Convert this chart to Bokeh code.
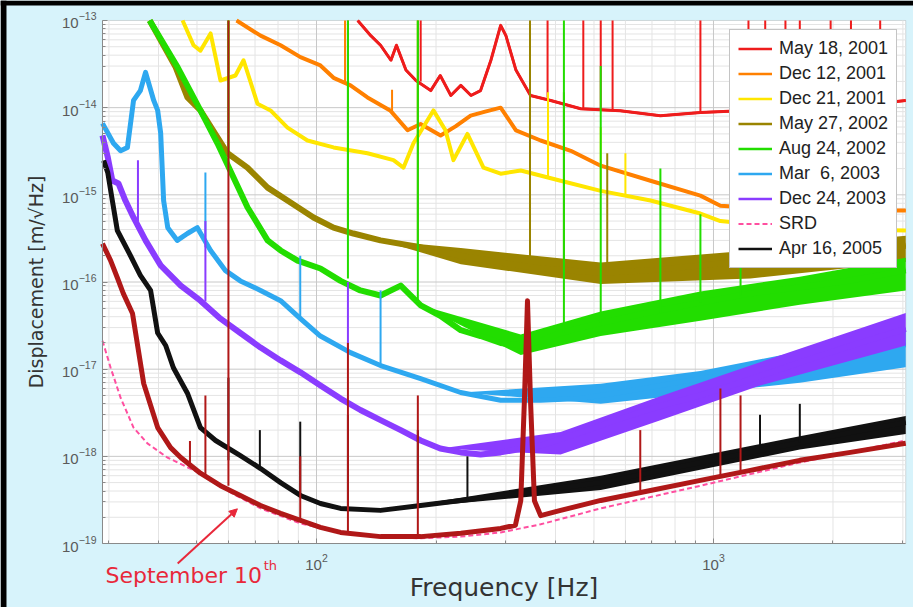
from bokeh.plotting import figure
from bokeh.models import (FixedTicker, Legend, LegendItem, Label, Arrow, NormalHead, LogAxis,
                          BoxAnnotation)
from bokeh.embed import file_html
from bokeh.resources import INLINE

# ---------------- data ----------------
freq_may01 = [127, 137, 145, 154, 159, 168, 178, 194, 205, 218, 231, 245, 259, 275, 291, 300, 318,
              346, 389, 463, 582, 735, 927, 1170, 1650, 2340, 3050]
disp_may01 = [1e-13, 6.7e-14, 5.2e-14, 3.5e-14, 5.2e-14, 2.7e-14, 2.05e-14, 1.57e-14, 2.34e-14,
              1.38e-14, 1.8e-14, 1.38e-14, 1.57e-14, 3.5e-14, 8.8e-14, 6.7e-14, 2.7e-14, 1.38e-14, 1.21e-14,
              9.7e-15, 9.2e-15, 8.1e-15, 8.8e-15, 9.2e-15, 9.7e-15, 1.06e-14, 1.21e-14]

freq_dec12_01 = [62.9, 72.3, 81.2, 91.1, 102.3, 110.4, 121.8, 134.4, 153.7, 169.6, 182.9, 205.4, 224,
                 244.5, 266, 291, 318, 367, 437, 520, 694, 927, 1041, 1650, 3050]
disp_dec12_01 = [1e-13, 6.7e-14, 5.2e-14, 3.8e-14, 3.05e-14, 2.2e-14, 1.8e-14, 1.31e-14, 9.2e-15,
                 5.5e-15, 6.5e-15, 4.8e-15, 6.1e-15, 8.1e-15, 9.0e-15, 1.0e-14, 5.5e-15, 4.2e-15, 3.2e-15,
                 2.16e-15, 1.45e-15, 9.8e-16, 7.5e-16, 6.6e-16, 6.6e-16]

freq_dec21_01 = [46.0, 49, 51, 54.1, 57.3, 62.5, 65.5, 71, 76.6, 84.5, 94.9, 110.4, 134.4, 156.3, 165.6,
                 175.5, 197, 211.3, 221.3, 240, 263.4, 291, 327, 412, 520, 694, 927, 1041, 1650, 3050]
disp_dec21_01 = [1e-13, 5.2e-14, 4.5e-14, 7.1e-14, 2.05e-14, 2.34e-14, 3.5e-14, 1.11e-14, 9.3e-15,
                 5.9e-15, 4.2e-15, 3.5e-15, 3.0e-15, 2.5e-15, 2.05e-15, 3.9e-15, 9.3e-15, 5.5e-15, 2.5e-15,
                 5.0e-15, 2.05e-15, 1.75e-15, 1.9e-15, 1.45e-15, 1.11e-15, 8.6e-16, 6.1e-16, 5.0e-16, 4.1e-16,
                 3.9e-16]

freq_may27_02 = [38.0, 44.2, 47.3, 51, 59.7, 67, 75.3, 84.5, 98.3, 110.4, 123.9, 145, 182.9, 230.7, 291,
                 367, 520, 694, 927, 1239, 1650, 2213, 3050]
disp_may27_02 = [1e-13, 2.9e-14, 1.31e-14, 9.3e-15, 3.0e-15, 2.05e-15, 1.21e-15, 8.6e-16, 5.5e-16,
                 4.2e-16, 3.6e-16, 3.0e-16, 2.5e-16, 2.0e-16, 1.67e-16, 1.43e-16, 1.28e-16, 1.36e-16, 1.55e-16,
                 1.76e-16, 2.0e-16, 2.3e-16, 2.6e-16]

freq_aug24_02 = [38.0, 44.7, 51, 56.3, 61.8, 67, 75.3, 81.2, 89.6, 102.3, 115, 129, 145, 163, 183, 205,
                 231, 259, 291, 327, 367, 412, 520, 694, 927, 1239, 1650, 2213, 3050]
disp_aug24_02 = [1e-13, 2.9e-14, 9.3e-15, 3.9e-15, 1.58e-15, 7.2e-16, 3.0e-16, 2.3e-16, 1.76e-16,
                 1.43e-16, 1.03e-16, 8.0e-17, 7.0e-17, 9.1e-17, 5.4e-17, 4.1e-17, 2.8e-17, 2.4e-17, 2.0e-17,
                 1.87e-17, 2.1e-17, 2.6e-17, 3.4e-17, 4.5e-17, 5.8e-17, 7.4e-17, 8.7e-17, 1.04e-16, 1.36e-16]

freq_mar06_03 = [28.9, 30.8, 32.1, 33.4, 34.6, 36, 37.1, 38.9, 39.8, 40.5, 41.2, 42.2, 44.6, 47.3, 50.1, 54.1,
                 59, 64.3, 72.3, 81.2, 91.1, 102.3, 121.8, 145, 182.9, 230.7, 291, 367, 463, 582, 735, 927,
                 1239, 1650, 2213, 3050]
disp_mar06_03 = [6.6e-15, 3.9e-15, 3.2e-15, 3.5e-15, 1.21e-14, 1.57e-14, 2.54e-14, 1.21e-14, 9.3e-15, 5.1e-15,
                 8.6e-16, 4.2e-16, 3.0e-16, 3.6e-16, 4.2e-16, 2.3e-16, 1.35e-16, 1.03e-16, 8.0e-17, 6.1e-17,
                 3.8e-17, 2.4e-17, 1.55e-17, 1.1e-17, 7.8e-18, 5.4e-18, 4.4e-18, 4.4e-18, 4.6e-18, 5.4e-18,
                 6.5e-18, 7.8e-18, 9.5e-18, 1.2e-17, 1.5e-17, 1.9e-17]

freq_dec24_03 = [28.9, 29.8, 30.6, 31.7, 33, 34.6, 37.1, 40.5, 45.5, 51, 57.3, 64.3, 72.3, 81.2, 91.1, 102.3,
                 115, 129, 145, 163, 183, 205, 231, 259, 291, 367, 463, 582, 735, 927, 1170, 1475, 1860, 2340,
                 3050]
disp_dec24_03 = [4.8e-15, 2.7e-15, 1.46e-15, 1.35e-15, 8.6e-16, 5.5e-16, 3.0e-16, 1.55e-16, 9.1e-17, 6.1e-17,
                 3.8e-17, 2.6e-17, 1.77e-17, 1.26e-17, 9.2e-18, 6.5e-18, 4.6e-18, 3.4e-18, 2.6e-18, 2.0e-18,
                 1.52e-18, 1.23e-18, 1.11e-18, 1.05e-18, 1.11e-18, 1.33e-18, 1.88e-18, 2.7e-18, 3.8e-18,
                 5.0e-18, 7.0e-18, 1.0e-17, 1.43e-17, 2.0e-17, 2.9e-17]

freq_srd = [28.9, 30.3, 32.1, 34.6, 37.5, 42.1, 47.3, 51, 60.7, 72.3, 91.1, 115, 145, 183, 231, 291, 367, 520,
            927, 1650, 3050]
disp_srd = [2.12e-17, 1.04e-17, 4.7e-18, 2.14e-18, 1.41e-18, 9.7e-19, 7.5e-19, 6.4e-19, 3.85e-19, 2.53e-19,
            1.7e-19, 1.34e-19, 1.18e-19, 1.15e-19, 1.2e-19, 1.34e-19, 1.66e-19, 2.53e-19, 4.6e-19, 8.5e-19,
            1.52e-18]

freq_apr16_05 = [29.1, 29.8, 30.6, 31.5, 34, 36, 38.2, 39.8, 41.7, 43.6, 47.3, 51, 55.7, 64.3, 72.3, 81.2, 91.1,
                 102.3, 115, 145, 183, 231, 291, 367, 520, 694, 927, 1239, 1650, 2213, 3050]
disp_apr16_05 = [2.47e-15, 1.8e-15, 8.6e-16, 3.9e-16, 2.0e-16, 1.19e-16, 8.0e-17, 2.6e-17, 1.87e-17, 1.04e-17,
                 5.3e-18, 2.14e-18, 1.52e-18, 1.02e-18, 7.25e-19, 5.0e-19, 3.56e-19, 2.88e-19, 2.53e-19, 2.4e-19,
                 2.73e-19, 3.12e-19, 3.56e-19, 4.06e-19, 5.0e-19, 6.5e-19, 8.5e-19, 1.11e-18, 1.44e-18, 1.88e-18,
                 2.45e-18]

freq_sep10 = [28.9, 30.3, 31.5, 32.6, 34.4, 36.7, 39.8, 42.9, 45.5, 51, 57.3, 64.3, 72.3, 81.2, 91.1, 102.3, 115,
              145, 183, 231, 291, 317, 327, 334, 340, 346, 354, 367, 412, 520, 694, 927, 1239, 1650, 2213, 3050]
disp_sep10 = [2.76e-16, 1.76e-16, 1.12e-16, 7.4e-17, 4.35e-17, 6.85e-18, 2.14e-18, 1.26e-18, 9.7e-19, 6.4e-19,
              4.6e-19, 3.56e-19, 2.73e-19, 2.22e-19, 1.84e-19, 1.53e-19, 1.34e-19, 1.2e-19, 1.2e-19, 1.31e-19,
              1.49e-19, 1.62e-19, 3.1e-19, 4.4e-18, 6.1e-17, 4.4e-18, 3.1e-19, 2.09e-19, 2.4e-19, 3.12e-19,
              4.06e-19, 5.3e-19, 6.9e-19, 9.0e-19, 1.11e-18, 1.41e-18]

# spread of the noisy traces at high frequency: frequency, lower edge, upper edge
band_f_may27_02 = [145, 231, 520, 1239, 3050]
band_lo_may27_02 = [3.0e-16, 1.6e-16, 9.5e-17, 1.1e-16, 1.7e-16]
band_hi_may27_02 = [3.0e-16, 2.45e-16, 1.67e-16, 2.3e-16, 3.4e-16]

band_f_aug24_02 = [183, 327, 520, 927, 1650, 3050]
band_lo_aug24_02 = [5.4e-17, 1.45e-17, 2.4e-17, 3.6e-17, 5.5e-17, 8.0e-17]
band_hi_aug24_02 = [5.4e-17, 2.5e-17, 4.6e-17, 7.8e-17, 1.15e-16, 1.9e-16]

band_f_mar06_03 = [231, 520, 927, 1650, 3050]
band_lo_mar06_03 = [5.4e-18, 4.0e-18, 5.3e-18, 7.0e-18, 1.05e-17]
band_hi_mar06_03 = [5.4e-18, 6.8e-18, 9.5e-18, 1.6e-17, 3.0e-17]

band_f_dec24_03 = [205, 412, 735, 1310, 3050]
band_lo_dec24_03 = [1.23e-18, 1.05e-18, 2.6e-18, 6.5e-18, 1.87e-17]
band_hi_dec24_03 = [1.23e-18, 1.9e-18, 4.9e-18, 1.2e-17, 4.4e-17]

band_f_apr16_05 = [145, 520, 1650, 3050]
band_lo_apr16_05 = [2.4e-19, 4.1e-19, 1.2e-18, 1.8e-18]
band_hi_apr16_05 = [2.4e-19, 6.0e-19, 1.7e-18, 2.9e-18]

# narrow spectral lines: frequency, bottom and top of each line
spk_f_may01 = [183, 382, 470, 520, 557, 927, 1225, 1350, 1518, 1650, 1973, 2220, 2630]
spk_lo_may01 = [2.0e-14, 1.3e-14, 9.7e-15, 9.5e-15, 9.4e-15, 8.8e-15, 9.2e-15, 9.3e-15, 9.5e-15, 9.7e-15,
                1.0e-14, 1.03e-14, 1.1e-14]
spk_hi_may01 = [1e-13] * 13

spk_f_dec12_01 = [118, 155, 383]
spk_lo_dec12_01 = [1.9e-14, 9e-15, 4e-15]
spk_hi_dec12_01 = [1e-13, 1.6e-14, 1.2e-14]

spk_f_dec21_01 = [60, 180, 383, 520, 600]
spk_lo_dec21_01 = [2.5e-14, 3.8e-15, 1.6e-15, 1.1e-15, 1.0e-15]
spk_hi_dec21_01 = [1e-13, 1e-13, 1.5e-14, 6e-15, 3e-15]

spk_f_may27_02 = [60, 120, 180, 345, 420, 540]
spk_lo_may27_02 = [2.7e-15, 3.7e-16, 2.5e-16, 1.5e-16, 1.4e-16, 1.3e-16]
spk_hi_may27_02 = [1e-13, 1e-13, 1e-13, 1e-13, 1.5e-14, 3e-15]

spk_f_aug24_02 = [60, 120, 180, 420, 520, 735, 927, 1170]
spk_lo_aug24_02 = [2.0e-15, 1.1e-16, 6e-17, 2.6e-17, 3.4e-17, 4.5e-17, 5.8e-17, 7e-17]
spk_hi_aug24_02 = [1e-13, 1e-13, 1e-13, 1e-13, 3e-14, 2e-15, 6e-16, 2.5e-16]

spk_f_mar06_03 = [52.5, 91, 145]
spk_lo_mar06_03 = [2.5e-16, 4e-17, 1.1e-17]
spk_hi_mar06_03 = [1.8e-15, 2e-16, 8e-17]

spk_f_dec24_03 = [35.5, 52.5, 120]
spk_lo_dec24_03 = [5e-16, 6e-17, 1.5e-17]
spk_hi_dec24_03 = [2.5e-15, 5e-16, 1e-16]

spk_f_apr16_05 = [60, 72, 91, 120, 180, 240, 1310, 1650]
spk_lo_apr16_05 = [9e-19, 7e-19, 3.6e-19, 2.5e-19, 2.6e-19, 3e-19, 1.2e-18, 1.44e-18]
spk_hi_apr16_05 = [8e-18, 2e-18, 2.5e-18, 3e-18, 2e-18, 1e-18, 3e-18, 4e-18]

spk_f_sep10 = [48, 52.5, 60, 91, 120, 180, 654, 1041, 1170]
spk_lo_sep10 = [8e-19, 6e-19, 4.6e-19, 1.8e-19, 1.3e-19, 1.2e-19, 4.1e-19, 6e-19, 6.9e-19]
spk_hi_sep10 = [1.5e-18, 5e-18, 1e-13, 1e-18, 2e-17, 5e-18, 2e-18, 6e-18, 5e-18]

x_bounds = (28.9, 3050)
y_bounds = (1e-19, 1e-13)
x_major_ticks = [100, 1000]
x_minor_ticks = [30, 40, 50, 60, 70, 80, 90, 200, 300, 400, 500, 600, 700, 800, 900, 2000, 3000]
y_major_ticks = [1e-19, 1e-18, 1e-17, 1e-16, 1e-15, 1e-14, 1e-13]
y_minor_ticks = [m * d for d in [1e-19, 1e-18, 1e-17, 1e-16, 1e-15, 1e-14] for m in range(2, 10)]

# ---------------- figure (frame covers the whole canvas; axes at fixed positions) ----------------
p = figure(width=913, height=607, x_axis_type="log", y_axis_type="log",
           x_range=(15.995, 3190.6), y_range=(1.8452e-20, 1.6957e-13),
           x_axis_location=None, y_axis_location=None,
           output_backend="svg", toolbar_location=None,
           min_border_left=0, min_border_right=0, min_border_top=0, min_border_bottom=0)
p.grid.visible = False
p.background_fill_color = "#d7f3fb"
p.border_fill_color = "#d7f3fb"
p.outline_line_color = None

# white plotting box
p.add_layout(BoxAnnotation(left=x_bounds[0], right=x_bounds[1], bottom=y_bounds[0], top=y_bounds[1],
                           fill_color="white", fill_alpha=1.0, line_color="#8a8a8a", line_width=1,
                           level="image"))

# grid lines inside the box
xm = x_minor_ticks
p.segment(x0=xm, y0=[y_bounds[0]] * len(xm), x1=xm, y1=[y_bounds[1]] * len(xm), line_color="#e4e4e4", line_width=1)
ym = y_minor_ticks
p.segment(x0=[x_bounds[0]] * len(ym), y0=ym, x1=[x_bounds[1]] * len(ym), y1=ym, line_color="#e4e4e4", line_width=1)
xM = x_major_ticks
p.segment(x0=xM, y0=[y_bounds[0]] * len(xM), x1=xM, y1=[y_bounds[1]] * len(xM), line_color="#c8c8c8", line_width=1)
yM = y_major_ticks[1:-1]
p.segment(x0=[x_bounds[0]] * len(yM), y0=yM, x1=[x_bounds[1]] * len(yM), y1=yM, line_color="#c8c8c8", line_width=1)

xaxis = LogAxis(fixed_location=y_bounds[0], bounds=x_bounds,
                ticker=FixedTicker(ticks=x_major_ticks, minor_ticks=x_minor_ticks),
                axis_label="Frequency [Hz]")
yaxis = LogAxis(fixed_location=x_bounds[0], bounds=y_bounds,
                ticker=FixedTicker(ticks=y_major_ticks, minor_ticks=y_minor_ticks),
                axis_label="Displacement [m/\u221aHz]")
for ax in (xaxis, yaxis):
    ax.axis_line_color = "#8a8a8a"
    ax.major_tick_line_color = "#8a8a8a"
    ax.minor_tick_line_color = "#8a8a8a"
    ax.major_tick_in = 5
    ax.major_tick_out = 0
    ax.minor_tick_in = 3
    ax.minor_tick_out = 0
    ax.major_label_text_color = "#5a5a5a"
    ax.major_label_text_font = "Liberation Sans"
    ax.major_label_text_font_size = "15px"
    ax.axis_label_text_font = "DejaVu Sans"
    ax.axis_label_text_font_style = "normal"
    ax.axis_label_text_color = "#333333"
xaxis.axis_label_text_font_size = "25px"
yaxis.axis_label_text_font_size = "19px"
xaxis.major_label_standoff = 10
xaxis.axis_label_standoff = 0
yaxis.major_label_standoff = 6
yaxis.axis_label_standoff = 12
p.add_layout(xaxis, "below")
p.add_layout(yaxis, "left")

bands = {
    "May 27, 2002": (band_f_may27_02, band_lo_may27_02, band_hi_may27_02),
    "Aug 24, 2002": (band_f_aug24_02, band_lo_aug24_02, band_hi_aug24_02),
    "Mar  6, 2003": (band_f_mar06_03, band_lo_mar06_03, band_hi_mar06_03),
    "Dec 24, 2003": (band_f_dec24_03, band_lo_dec24_03, band_hi_dec24_03),
    "Apr 16, 2005": (band_f_apr16_05, band_lo_apr16_05, band_hi_apr16_05),
}

series = [
    ("May 18, 2001", freq_may01, disp_may01, spk_f_may01, spk_lo_may01, spk_hi_may01, "#ee1c1c", 3, None),
    ("Dec 12, 2001", freq_dec12_01, disp_dec12_01, spk_f_dec12_01, spk_lo_dec12_01, spk_hi_dec12_01, "#ff8000", 4, None),
    ("Dec 21, 2001", freq_dec21_01, disp_dec21_01, spk_f_dec21_01, spk_lo_dec21_01, spk_hi_dec21_01, "#ffe600", 4, None),
    ("May 27, 2002", freq_may27_02, disp_may27_02, spk_f_may27_02, spk_lo_may27_02, spk_hi_may27_02, "#9a8400", 6, None),
    ("Aug 24, 2002", freq_aug24_02, disp_aug24_02, spk_f_aug24_02, spk_lo_aug24_02, spk_hi_aug24_02, "#22dd00", 6, None),
    ("Mar  6, 2003", freq_mar06_03, disp_mar06_03, spk_f_mar06_03, spk_lo_mar06_03, spk_hi_mar06_03, "#2ea8f0", 5, None),
    ("Dec 24, 2003", freq_dec24_03, disp_dec24_03, spk_f_dec24_03, spk_lo_dec24_03, spk_hi_dec24_03, "#8a3cff", 6, None),
    ("SRD", freq_srd, disp_srd, [], [], [], "#ff4fa0", 2, "5 3"),
    ("Apr 16, 2005", freq_apr16_05, disp_apr16_05, spk_f_apr16_05, spk_lo_apr16_05, spk_hi_apr16_05, "#111111", 5, None),
    (None, freq_sep10, disp_sep10, spk_f_sep10, spk_lo_sep10, spk_hi_sep10, "#b01818", 5, None),
]

proxies = {}
for label, fx, dy, sf, slo, shi, color, lw, dash in series:
    if label in bands:
        bf, blo, bhi = bands[label]
        p.varea(x=bf, y1=blo, y2=bhi, fill_color=color, fill_alpha=1.0)
    if dash:
        proxies[label] = p.line(fx, dy, line_color=color, line_width=lw, line_dash=dash)
        continue
    if label:
        # thin copy of the curve (hidden under it) that gives the legend its swatch
        proxies[label] = p.line(fx, dy, line_color=color, line_width=2.5)
    p.line(fx, dy, line_color=color, line_width=lw, line_join="round")
    if sf:
        p.segment(x0=sf, y0=slo, x1=sf, y1=shi, line_color=color, line_width=2)

order = ["May 18, 2001", "Dec 12, 2001", "Dec 21, 2001", "May 27, 2002", "Aug 24, 2002",
         "Mar  6, 2003", "Dec 24, 2003", "SRD", "Apr 16, 2005"]
legend = Legend(items=[LegendItem(label=k, renderers=[proxies[k]]) for k in order],
                location=(729, 339), label_text_font="Liberation Sans", label_text_font_size="18px",
                label_text_color="#222222", label_height=21, glyph_height=21, glyph_width=34,
                label_standoff=7, spacing=4, padding=8, margin=0,
                border_line_color="#8a8a8a", background_fill_color="white", background_fill_alpha=1.0)
p.add_layout(legend)

# annotation: "September 10th" with arrow
p.add_layout(Label(x=29.4, y=4.3e-20, text="September 10", text_color="#e8283a", text_font="DejaVu Sans",
                   text_font_size="22px", text_baseline="middle"))
p.add_layout(Label(x=73.6, y=5.6e-20, text="th", text_color="#e8283a", text_font="DejaVu Sans",
                   text_font_size="13px", text_baseline="middle"))
p.add_layout(Arrow(x_start=44.7, y_start=5.9e-20, x_end=63.2, y_end=2.5e-19, line_color="#e8283a", line_width=2,
                   end=NormalHead(size=8, fill_color="#e8283a", line_color="#e8283a")))

# black edge of the photographed screen (top and left)
p.add_layout(BoxAnnotation(right=16.56, fill_color="black", fill_alpha=1.0, line_color=None, level="overlay"))
p.add_layout(BoxAnnotation(bottom=1.486e-13, fill_color="black", fill_alpha=1.0, line_color=None, level="overlay"))

open("out.html", "w").write(file_html(p, INLINE))
